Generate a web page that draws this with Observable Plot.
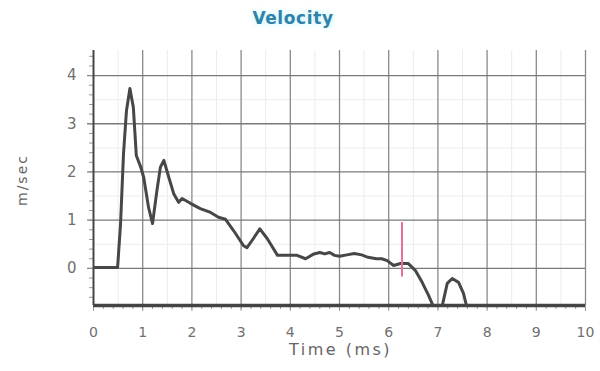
<!DOCTYPE html>
<html>
<head>
<meta charset="utf-8">
<script src="https://cdn.jsdelivr.net/npm/d3@7"></script>
<script src="https://cdn.jsdelivr.net/npm/@observablehq/plot@0.6"></script>
<style>
  html, body { margin: 0; padding: 0; background: #fff; }
  #wrap { position: relative; width: 600px; height: 371px; font-family: "DejaVu Sans", Verdana, sans-serif; }
  #title { position: absolute; left: -7px; top: 8px; width: 600px; text-align: center;
           font-weight: bold; font-size: 17px; letter-spacing: 0.6px; color: #2f82aa;
           text-shadow: 0 0 6px #cdf3f7, 0 0 10px #e2fbfc; z-index: 2; }
  svg { display: block; position: relative; }
</style>
</head>
<body>
<div id="wrap"><div id="title">Velocity</div></div>
<script>
const title = "Velocity";
const xLabel = "Time (ms)";
const yLabel = "m/sec";
const xTicks = [0, 1, 2, 3, 4, 5, 6, 7, 8, 9, 10];
const yTicks = [0, 1, 2, 3, 4];

// velocity trace (ms, m/sec); values at -0.77 are clipped at the chart floor
const time = [0, 0.3, 0.49, 0.55, 0.61, 0.67, 0.74, 0.81, 0.87, 0.96, 1.02, 1.12, 1.2, 1.29, 1.36, 1.43, 1.53, 1.63, 1.73, 1.8, 1.97, 2.17, 2.38, 2.54, 2.68, 2.85, 3.05, 3.12, 3.25, 3.38, 3.53, 3.74, 3.95, 4.14, 4.31, 4.48, 4.6, 4.7, 4.8, 4.9, 5.0, 5.15, 5.3, 5.45, 5.58, 5.75, 5.86, 5.97, 6.1, 6.24, 6.4, 6.54, 6.68, 6.81, 6.9, 7.09, 7.19, 7.29, 7.42, 7.52, 7.58, 8.5, 10];
const velocity = [0.02, 0.02, 0.02, 0.93, 2.38, 3.27, 3.73, 3.34, 2.34, 2.1, 1.89, 1.26, 0.93, 1.62, 2.1, 2.24, 1.89, 1.55, 1.37, 1.45, 1.35, 1.24, 1.16, 1.06, 1.02, 0.78, 0.47, 0.43, 0.62, 0.82, 0.62, 0.27, 0.27, 0.27, 0.2, 0.3, 0.33, 0.3, 0.33, 0.27, 0.25, 0.28, 0.31, 0.28, 0.23, 0.2, 0.2, 0.16, 0.06, 0.1, 0.1, -0.04, -0.29, -0.56, -0.77, -0.77, -0.31, -0.21, -0.29, -0.52, -0.77, -0.77, -0.77];

// pink cursor marker
const markerTime = [6.27];
const markerTop = [0.95];
const markerBottom = [-0.18];

const yMin = -0.77, yMax = 4.52;

const data = time.map((t, i) => ({t, v: velocity[i]}));
const marker = markerTime.map((t, i) => ({t, y1: markerTop[i], y2: markerBottom[i]}));
const minorX = d3.range(0, 10.001, 0.2).map(d => +d.toFixed(2));
const minorY = d3.range(-0.6, 4.5, 0.2).map(d => +d.toFixed(2));
const halfX = d3.range(0.5, 10, 1);
const halfY = d3.range(0.5, 4.5, 1);

const chart = Plot.plot({
  width: 600,
  height: 371,
  marginLeft: 93,
  marginRight: 15,
  marginTop: 50,
  marginBottom: 66,
  style: {fontFamily: "DejaVu Sans, Verdana, sans-serif", fontSize: "14px", color: "#666", background: "white"},
  x: {domain: [0, 10], axis: null},
  y: {domain: [yMin, yMax], axis: null},
  marks: [
    Plot.ruleX(halfX, {stroke: "#ececec", strokeWidth: 1}),
    Plot.ruleY(halfY, {stroke: "#ececec", strokeWidth: 1}),
    Plot.ruleX(xTicks.slice(1), {stroke: "#8a8a8a", strokeWidth: 1.3}),
    Plot.ruleY(yTicks, {x1: -0.12, x2: 10, stroke: "#7a7a7a", strokeWidth: 1.3}),
    Plot.axisY({ticks: minorY, tickSize: 4, text: null, stroke: "#999", label: null}),
    Plot.axisY({ticks: yTicks, tickSize: 0, tickPadding: 17, fontSize: 15, fill: "#707070", tickFormat: d3.format("d"), label: null}),
    Plot.axisX({ticks: minorX, tickSize: 4, text: null, stroke: "#999", label: null}),
    Plot.axisX({ticks: xTicks, tickSize: 6, tickPadding: 16, fontSize: 14, fill: "#707070", stroke: "#999", tickFormat: d3.format("d"), label: null}),
    Plot.ruleX([0], {stroke: "#444", strokeWidth: 2}),
    Plot.ruleY([yMin], {stroke: "#444", strokeWidth: 3.5}),
    Plot.line(data, {x: "t", y: "v", stroke: "#474747", strokeWidth: 3, strokeLinejoin: "round", clip: true}),
    Plot.ruleX(marker, {x: "t", y1: "y1", y2: "y2", stroke: "#ec6f95", strokeWidth: 2}),
    Plot.text([xLabel], {text: d => d, frameAnchor: "bottom", textAnchor: "middle", dy: 49, dx: 1, fontSize: 16, fill: "#666"}),
    Plot.text([yLabel], {text: d => d, frameAnchor: "left", textAnchor: "middle", dx: -71, dy: 2, rotate: -90, fontSize: 14, fill: "#666"})
  ]
});
d3.select(chart).selectAll("text").filter(function () { return this.textContent === xLabel; }).style("letter-spacing", "2.5px");
d3.select(chart).selectAll("text").filter(function () { return this.textContent === yLabel; }).style("letter-spacing", "2px");
document.getElementById("wrap").appendChild(chart);
</script>
</body>
</html>
